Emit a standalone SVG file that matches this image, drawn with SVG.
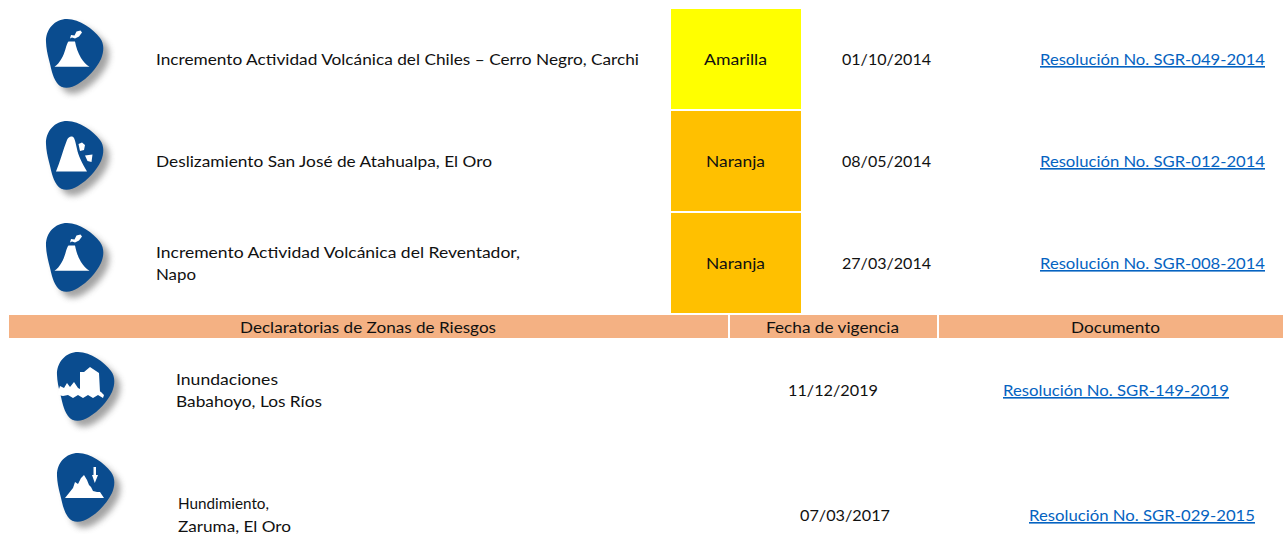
<svg xmlns="http://www.w3.org/2000/svg" xmlns:xlink="http://www.w3.org/1999/xlink" width="1283" height="534" viewBox="0 0 1283 534">
<style>
text{font-family:"Lato","Open Sans","Liberation Sans",sans-serif;font-size:16px;fill:#111;}
.l{fill:#0563c1;text-decoration:underline;}
.b{fill:#0a4c8f;}
.w{fill:#fff;}
.s{fill:#666;opacity:.6;filter:url(#blur);}
.h{fill:#f4b183;}
</style>
<defs>
<filter id="blur" x="-30%" y="-30%" width="160%" height="160%"><feGaussianBlur stdDeviation="3.2"/></filter>
<filter id="soft" x="-10%" y="-10%" width="120%" height="120%"><feGaussianBlur stdDeviation="0.5"/></filter>
<path id="blobp" d="M46,42C45.500,29 55,19 67,19C80,19 93,29 100,38C104.500,44 104,52 101,59C96,69 88,78 78,84C71,88.500 62,90 57,83C52,76 51,67 49,60C47.500,54 46.200,48 46,42Z"/>
<g id="blob"><use xlink:href="#blobp" href="#blobp" class="s" x="6" y="6"/><use xlink:href="#blobp" href="#blobp" class="b"/></g>
<g id="volcano" class="w" filter="url(#soft)"><path d="M54.500,66.800C60,63 63.500,56 65.500,49C66.500,45 67.500,42.500 68.500,41.500L75,41.500C76,47 78,53 81,58C83.500,62 86.500,65 89.500,66.800Z"/><path d="M70,38.500L71,35L74.500,35.500L76.500,31.500L80.500,30.500L82,32.500L79,36.500L75,38.500L72,37.500Z"/></g>
</defs>
<g id="connectors"/>
<g id="row1">
<use xlink:href="#blob" href="#blob"/><use xlink:href="#volcano" href="#volcano"/>
<text x="156" y="65" textLength="483" lengthAdjust="spacingAndGlyphs">Incremento Actividad Volcánica del Chiles – Cerro Negro, Carchi</text>
<rect x="671" y="9" width="130" height="100" fill="#ffff00"/>
<text x="704" y="65" textLength="63" lengthAdjust="spacingAndGlyphs">Amarilla</text>
<text x="842" y="65" textLength="89" lengthAdjust="spacingAndGlyphs">01/10/2014</text>
<text class="l" x="1040" y="65" textLength="225" lengthAdjust="spacingAndGlyphs">Resolución No. SGR-049-2014</text>
</g>
<g id="row2">
<use xlink:href="#blob" href="#blob" y="102"/>
<g class="w" filter="url(#soft)"><path d="M56,171.500C60,162 63,150 67,140C68.500,136.500 72,135.500 74,138C75.500,141 76,145 77,149C78,155 82,163 87,171.500Z"/><path d="M78.500,144L82,142.500L85,145L84,150L80,151ZM85,155.500L92.500,154.500L91.500,162L87.500,161Z"/></g>
<text x="156" y="167" textLength="336" lengthAdjust="spacingAndGlyphs">Deslizamiento San José de Atahualpa, El Oro</text>
<rect x="671" y="111" width="130" height="100" fill="#ffc000"/>
<text x="706" y="167" textLength="59" lengthAdjust="spacingAndGlyphs">Naranja</text>
<text x="842" y="167" textLength="89" lengthAdjust="spacingAndGlyphs">08/05/2014</text>
<text class="l" x="1040" y="167" textLength="225" lengthAdjust="spacingAndGlyphs">Resolución No. SGR-012-2014</text>
</g>
<g id="row3">
<use xlink:href="#blob" href="#blob" y="204"/><use xlink:href="#volcano" href="#volcano" y="204"/>
<text x="156" y="258" textLength="364" lengthAdjust="spacingAndGlyphs">Incremento Actividad Volcánica del Reventador,</text>
<text x="156" y="280" textLength="40" lengthAdjust="spacingAndGlyphs">Napo</text>
<rect x="671" y="213" width="130" height="100" fill="#ffc000"/>
<text x="706" y="269" textLength="59" lengthAdjust="spacingAndGlyphs">Naranja</text>
<text x="842" y="269" textLength="89" lengthAdjust="spacingAndGlyphs">27/03/2014</text>
<text class="l" x="1040" y="269" textLength="225" lengthAdjust="spacingAndGlyphs">Resolución No. SGR-008-2014</text>
</g>
<g id="header">
<rect class="h" x="9" y="315" width="719" height="23"/>
<rect class="h" x="730" y="315" width="207" height="23"/>
<rect class="h" x="939" y="315" width="344" height="23"/>
<text x="240" y="333" textLength="256" lengthAdjust="spacingAndGlyphs">Declaratorias de Zonas de Riesgos</text>
<text x="766" y="333" textLength="133" lengthAdjust="spacingAndGlyphs">Fecha de vigencia</text>
<text x="1071" y="333" textLength="89" lengthAdjust="spacingAndGlyphs">Documento</text>
</g>
<g id="row4">
<use xlink:href="#blob" href="#blob" x="11" y="333"/>
<g class="w" filter="url(#soft)"><path d="M80,392L80,372L84,372L90,367L99,373L100,392Z"/><path d="M58,392L60,386L64,388L67,383L70,387L74,382L78,388L82,390L90,390L96,389L101,392L104,395L103,398L98,395L93,398L88,395L83,398L78,395L73,398L68,395L63,396L58,395Z"/></g>
<text x="176" y="385" textLength="102" lengthAdjust="spacingAndGlyphs">Inundaciones</text>
<text x="176" y="407" textLength="146" lengthAdjust="spacingAndGlyphs">Babahoyo, Los Ríos</text>
<text x="788" y="396" textLength="90" lengthAdjust="spacingAndGlyphs">11/12/2019</text>
<text class="l" x="1003" y="396" textLength="226" lengthAdjust="spacingAndGlyphs">Resolución No. SGR-149-2019</text>
</g>
<g id="row5">
<use xlink:href="#blob" href="#blob" x="11" y="434"/>
<g class="w" filter="url(#soft)"><path d="M65,498L73,488L75,482L78,484L81,478L84,475L87,480L89,485L91,487L93,491L97,492L100,492L104,498Z"/><path d="M93.500,467H96V475H98L94.800,483L92,475H93.500Z"/></g>
<text x="178" y="509" textLength="91" lengthAdjust="spacingAndGlyphs">Hundimiento,</text>
<text x="178" y="532" textLength="113" lengthAdjust="spacingAndGlyphs">Zaruma, El Oro</text>
<text x="800" y="521" textLength="90" lengthAdjust="spacingAndGlyphs">07/03/2017</text>
<text class="l" x="1029" y="521" textLength="226" lengthAdjust="spacingAndGlyphs">Resolución No. SGR-029-2015</text>
</g>
</svg>
